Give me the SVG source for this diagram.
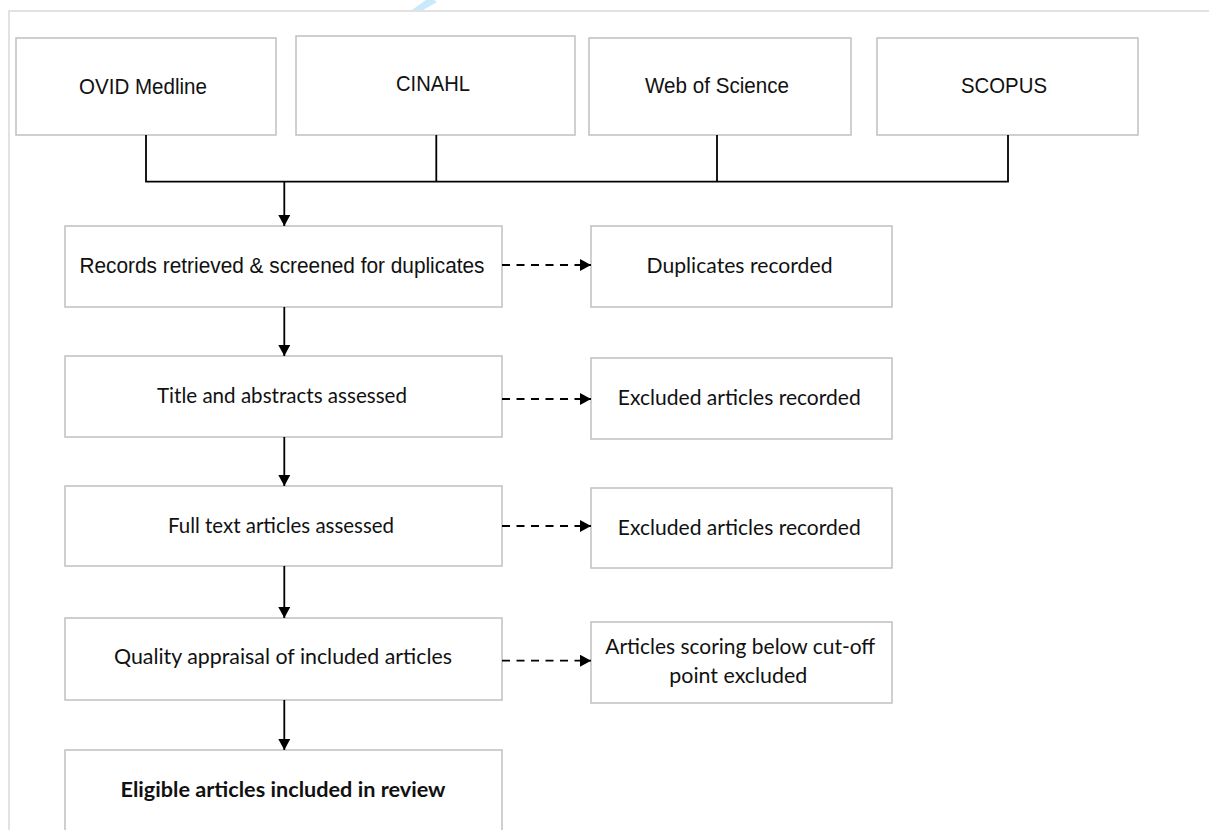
<svg xmlns="http://www.w3.org/2000/svg" width="1209" height="830" viewBox="0 0 1209 830">
<style>
.box{fill:#fff;stroke:#c0c0c0;stroke-width:1.5}
.frame{fill:none;stroke:#d9d9d9;stroke-width:1.5}
.ar{font-family:"Liberation Sans",Arial,sans-serif;font-size:21.5px;fill:#111;text-anchor:middle}
.ca{font-family:Lato,"Noto Sans",sans-serif;font-size:21.5px;fill:#111;text-anchor:middle}
.b{font-weight:bold}
.ln{fill:none;stroke:#000;stroke-width:1.8}
.dash{fill:none;stroke:#000;stroke-width:1.8;stroke-dasharray:8 6.5}
</style>
<defs>
<marker id="ah" markerUnits="userSpaceOnUse" markerWidth="12" markerHeight="12" viewBox="0 0 12 12" refX="11" refY="6" orient="auto">
<path d="M0,0 L11,6 L0,12 z" fill="#000"/>
</marker>
</defs>
<rect width="1209" height="830" fill="#fff"/>
<polygon points="412,10 423,10 437,2 434,0 426,0" fill="#c8e9fb"/>
<path class="frame" d="M9,830 V11 H1209"/>

<g id="n-ovid"><rect class="box" x="16" y="38" width="260" height="97"/><text class="ar" x="143" y="94" textLength="128" lengthAdjust="spacingAndGlyphs">OVID Medline</text></g>
<g id="n-cinahl"><rect class="box" x="296" y="36" width="279" height="99"/><text class="ar" x="433" y="91" textLength="74" lengthAdjust="spacingAndGlyphs">CINAHL</text></g>
<g id="n-wos"><rect class="box" x="589" y="38" width="262" height="97"/><text class="ar" x="717" y="93.3" textLength="144" lengthAdjust="spacingAndGlyphs">Web of Science</text></g>
<g id="n-scopus"><rect class="box" x="877" y="38" width="261" height="97"/><text class="ar" x="1004" y="93.3" textLength="86" lengthAdjust="spacingAndGlyphs">SCOPUS</text></g>

<g id="n-records"><rect class="box" x="65" y="226" width="437" height="81"/><text class="ar" x="282" y="272.7" textLength="405" lengthAdjust="spacingAndGlyphs">Records retrieved &amp; screened for duplicates</text></g>
<g id="n-dup"><rect class="box" x="591" y="226" width="301" height="81"/><text class="ca" x="739.5" y="272.7" textLength="186" lengthAdjust="spacingAndGlyphs">Duplicates recorded</text></g>
<g id="n-title"><rect class="box" x="65" y="356" width="437" height="81"/><text class="ca" x="282" y="402.7" textLength="250" lengthAdjust="spacingAndGlyphs">Title and abstracts assessed</text></g>
<g id="n-excl1"><rect class="box" x="591" y="358" width="301" height="81"/><text class="ca" x="739.3" y="404.7" textLength="243" lengthAdjust="spacingAndGlyphs">Excluded articles recorded</text></g>
<g id="n-full"><rect class="box" x="65" y="486" width="437" height="80"/><text class="ca" x="281" y="532.5" textLength="226" lengthAdjust="spacingAndGlyphs">Full text articles assessed</text></g>
<g id="n-excl2"><rect class="box" x="591" y="488" width="301" height="80"/><text class="ca" x="739.3" y="534.5" textLength="243" lengthAdjust="spacingAndGlyphs">Excluded articles recorded</text></g>
<g id="n-quality"><rect class="box" x="65" y="618" width="437" height="82"/><text class="ca" x="283" y="664" textLength="338" lengthAdjust="spacingAndGlyphs">Quality appraisal of included articles</text></g>
<g id="n-cutoff"><rect class="box" x="591" y="622" width="301" height="81"/><text class="ca" x="740.3" y="654" textLength="270" lengthAdjust="spacingAndGlyphs">Articles scoring below cut-off</text><text class="ca" x="738.3" y="683.3" textLength="138" lengthAdjust="spacingAndGlyphs">point excluded</text></g>
<g id="n-eligible"><rect class="box" x="65" y="750" width="437" height="90"/><text class="ca b" x="283" y="797.3" textLength="325" lengthAdjust="spacingAndGlyphs">Eligible articles included in review</text></g>

<g id="connectors">
<path class="ln" d="M146,135 V181.7 M436.3,135 V181.7 M717,135 V181.7 M1008,135 V181.7 M145.1,181.7 H1008.9"/>
<path class="ln" d="M284.3,181.7 V226" marker-end="url(#ah)"/>
<path class="ln" d="M284.3,307 V356" marker-end="url(#ah)"/>
<path class="ln" d="M284.3,437 V486" marker-end="url(#ah)"/>
<path class="ln" d="M284.3,566 V618" marker-end="url(#ah)"/>
<path class="ln" d="M284.3,700 V750" marker-end="url(#ah)"/>
<path class="dash" d="M502,265 H591" marker-end="url(#ah)"/>
<path class="dash" d="M502,399 H591" marker-end="url(#ah)"/>
<path class="dash" d="M502,526 H591" marker-end="url(#ah)"/>
<path class="dash" d="M502,660.7 H591" marker-end="url(#ah)"/>
</g>
</svg>
